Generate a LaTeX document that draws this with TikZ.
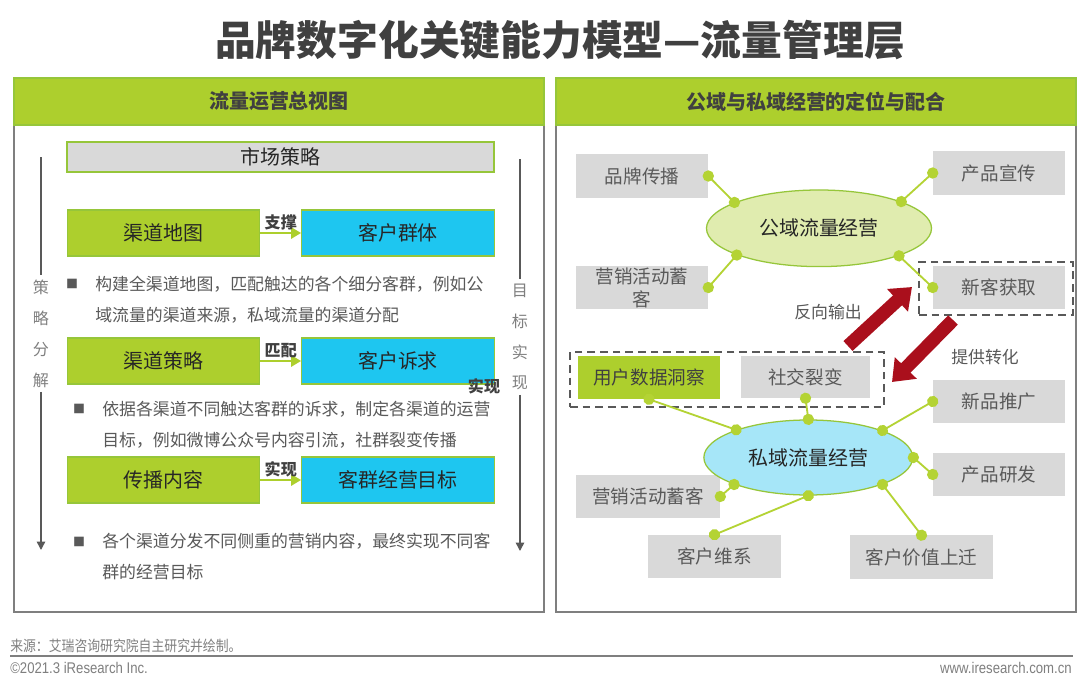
\documentclass[tikz,border=0pt]{standalone}
\usepackage{fontspec}
\setmainfont{Noto Sans CJK SC}
\newfontfamily\narrowcjk{Noto Sans CJK SC}[FakeStretch=0.87]
\newfontfamily\narrowlat{Liberation Sans}[FakeStretch=0.85]
\usetikzlibrary{shapes.geometric,arrows.meta}
\definecolor{lv}{RGB}{173,207,45}
\definecolor{lvd}{RGB}{150,198,58}
\definecolor{qing}{RGB}{30,198,240}
\definecolor{hui}{RGB}{217,217,217}
\definecolor{zi}{RGB}{89,89,89}
\definecolor{shen}{RGB}{64,64,64}
\definecolor{xian}{RGB}{127,127,127}
\definecolor{lk}{RGB}{180,211,52}
\definecolor{hong}{RGB}{170,15,28}
\definecolor{tq}{RGB}{224,236,175}
\definecolor{tl}{RGB}{166,230,248}
\begin{document}
\begin{tikzpicture}[x=0.025cm,y=-0.025cm]
    \tikzset{%
        fa/.style={font=\fontsize{14.2pt}{17pt}\selectfont},
        fb/.style={font=\fontsize{12pt}{22pt}\selectfont},
        fc/.style={font=\fontsize{13.2pt}{16.4pt}\selectfont},
        gbx/.style={draw=lvd, line width=0.8pt, fill=lv, minimum width=4.82cm, minimum height=1.15cm, text=black!85, fa},
        cbx/.style={gbx, fill=qing},
        gry/.style={fill=hui, minimum width=3.3cm, minimum height=1.075cm, inner sep=0pt, text=zi, fc},
        elp/.style={ellipse, draw=lvd, line width=0.9pt, inner sep=0pt, text=black!85, fa},
        hd/.style={text=shen, font=\fontsize{14.2pt}{17pt}\selectfont\bfseries},
        lb/.style={text=shen, font=\fontsize{11.4pt}{13pt}\selectfont\bfseries, inner sep=1.5pt},
        tx/.style={text=zi, fb, align=left, anchor=west, inner sep=0pt},
        bu/.style={text=zi, font=\fontsize{8.5pt}{8.5pt}\selectfont, inner sep=0pt},
        sd/.style={text=xian, font=\fontsize{11.4pt}{22pt}\selectfont, align=center, inner sep=3pt},
        sx/.style={draw=zi, line width=1.1pt},
        ar/.style={draw=lv, line width=1.4pt, -{Triangle[length=7pt,width=8pt]}},
        lkk/.style={draw=lk, line width=1.3pt, {Circle[length=8pt]}-{Circle[length=8pt]}, shorten <=-4pt, shorten >=-4pt},
        ra/.style={draw=hong, line width=9.5pt, -{Triangle[length=14pt,width=21pt]}},
        dsh/.style={draw=zi, dash pattern=on 5.5pt off 3.5pt, line width=1pt, minimum width=3.85cm, minimum height=1.325cm},
        pan/.style={draw=xian, line width=1.1pt}%
        }
    \useasboundingbox (0,0) rectangle (1080,690);
    \fill[white] (0,0) rectangle (1080,690);
    % title
    \node[text=shen, font=\fontsize{29pt}{31pt}\selectfont\bfseries] (tt) at (560,40) {品牌数字化关键能力模型—流量管理层};
    % left panel
    \draw[pan] (14,125) rectangle (544,612);
    \draw[draw=lvd, fill=lv, line width=0.8pt] (14,78) rectangle (544,125);
    \node[hd] (hl) at (279,101.5) {流量运营总视图};
    \node[gbx, fill=hui, minimum width=10.675cm, minimum height=0.75cm] (sc) at (280.5,157) {市场策略};
    \node[gbx] (qd) at (163.5,233) {渠道地图};
    \node[cbx] (kq) at (398,233) {客户群体};
    \node[gbx] (cl) at (163.5,361) {渠道策略};
    \node[cbx] (sq) at (398,361) {客户诉求};
    \node[gbx] (cn) at (163.5,480) {传播内容};
    \node[cbx] (mb) at (398,480) {客群经营目标};
    \path
    (qd)edge[ar]node[lb,above]{支撑}(kq)
    (cl)edge[ar]node[lb,above]{匹配}(sq)
    (cn)edge[ar]node[lb,above]{实现}(mb);
    \node[lb] (sx1) at (484,386) {实现};
    \node[bu] (d1) at (72,284) {■};
    \node[tx] (t1) at (95,299.5) {构建全渠道地图，匹配触达的各个细分客群，例如公\\域流量的渠道来源，私域流量的渠道分配};
    \node[bu] (d2) at (79,409) {■};
    \node[tx] (t2) at (102,425) {依据各渠道不同触达客群的诉求，制定各渠道的运营\\目标，例如微博公众号内容引流，社群裂变传播};
    \node[bu] (d3) at (79,542) {■};
    \node[tx] (t3) at (102,557) {各个渠道分发不同侧重的营销内容，最终实现不同客\\群的经营目标};
    % side arrows
    \node[sd] (zl) at (41,333.5) {策\\略\\分\\解};
    \node[sd] (zr) at (520,337) {目\\标\\实\\现};
    \coordinate (zlt) at (41,157);
    \coordinate (zlb) at (41,550);
    \coordinate (zrt) at (520,159);
    \coordinate (zrb) at (520,551);
    \path
    (zlt)edge[sx](zl.north)
    (zl.south)edge[sx,-{Triangle[length=6pt,width=6pt]}](zlb)
    (zrt)edge[sx](zr.north)
    (zr.south)edge[sx,-{Triangle[length=6pt,width=6pt]}](zrb);
    % right panel
    \draw[pan] (556,125) rectangle (1076,612);
    \draw[draw=lvd, fill=lv, line width=0.8pt] (556,78) rectangle (1076,125);
    \node[hd] (hr) at (816,101.5) {公域与私域经营的定位与配合};
    \node[dsh] (g1) at (996,288.5) {};
    \node[dsh, minimum width=7.85cm, minimum height=1.375cm] (g2) at (727,379.5) {};
    \node[gry] (pb) at (642,176) {品牌传播};
    \node[gry] (cx) at (999,173) {产品宣传};
    \node[gry, align=center] (yx1) at (642,287.5) {营销活动蓄\\客};
    \node[gry] (xk) at (999,287.5) {新客获取};
    \node[elp, fill=tq, minimum width=5.625cm, minimum height=1.915cm] (gy) at (819,228.3) {公域流量经营};
    \node[gry, fill=lv, text=shen, minimum width=3.55cm] (yh) at (649,377.5) {用户数据洞察};
    \node[gry, minimum width=3.225cm, minimum height=1.05cm] (sj) at (805.5,377) {社交裂变};
    \node[gry] (xp) at (999,401.5) {新品推广};
    \node[gry] (cy) at (999,474.5) {产品研发};
    \node[gry, minimum width=3.6cm] (yx2) at (648,496.5) {营销活动蓄客};
    \node[gry, minimum width=3.325cm] (wx) at (714.5,556.5) {客户维系};
    \node[gry, minimum width=3.575cm] (jz) at (921.5,557) {客户价值上迁};
    \node[elp, fill=tl, minimum width=5.22cm, minimum height=1.875cm] (sy) at (808.3,457.5) {私域流量经营};
    \path
    (pb.east)edge[lkk](gy.163)
    (cx.west)edge[lkk](gy.18)
    (yx1.east)edge[lkk](gy.198)
    (xk.west)edge[lkk](gy.341)
    (yh.south)edge[lkk](sy.159)
    (sj.south)edge[lkk](sy.90)
    (xp.west)edge[lkk](sy.20)
    (cy.west)edge[lkk](sy.0)
    (yx2.east)edge[lkk](sy.200)
    (wx.north)edge[lkk](sy.270)
    (jz.north)edge[lkk](sy.340);
    % transfer arrows
    \coordinate (h1) at (848,346);
    \coordinate (h2) at (912,287);
    \coordinate (h3) at (953,320);
    \coordinate (h4) at (892,382);
    \path
    (h1)edge[ra](h2)
    (h3)edge[ra](h4);
    \node[text=zi, fb] (fx) at (828,312) {反向输出};
    \node[text=zi, fb] (tg) at (985,357) {提供转化};
    % footer
    \node[anchor=west, inner sep=0pt, text=xian, font=\narrowcjk\fontsize{10.5pt}{12pt}\selectfont] (ly) at (10,646) {来源：艾瑞咨询研究院自主研究并绘制。};
    \draw[xian, line width=1.2pt] (10,656) -- (1073,656);
    \node[anchor=west, inner sep=0pt, text=xian, font=\narrowlat\fontsize{11pt}{12pt}\selectfont] (cr) at (10,668) {©2021.3 iResearch Inc.};
    \node[anchor=east, inner sep=0pt, text=xian, font=\narrowlat\fontsize{11pt}{12pt}\selectfont] (wz) at (1072,668) {www.iresearch.com.cn};
\end{tikzpicture}
\end{document}
